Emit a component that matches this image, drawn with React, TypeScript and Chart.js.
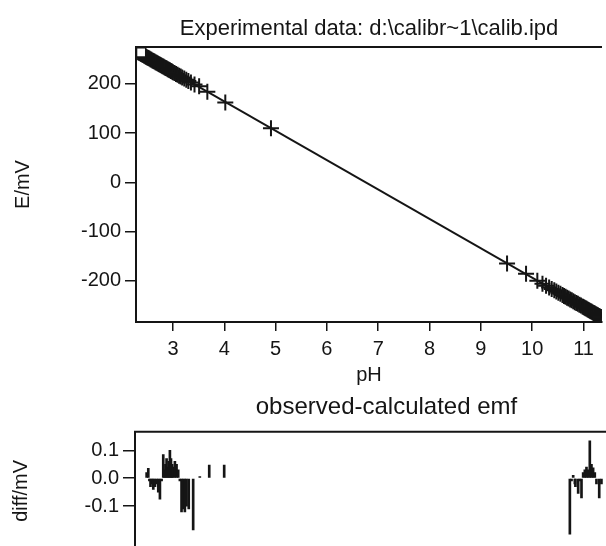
import React, { useEffect, useRef } from "react";
import { Chart, registerables } from "chart.js";

Chart.register(...registerables);

const FONT = "'Liberation Sans', Arial, Helvetica, sans-serif";
const INK = "#151515";

const titleTop = "Experimental data: d:\\calibr~1\\calib.ipd";
const titleBottom = "observed-calculated emf";
const xTitle = "pH";
const yTitleTop = "E/mV";
const yTitleBottom = "diff/mV";

const xTicks = [3, 4, 5, 6, 7, 8, 9, 10, 11];
const yTicksTop = [-200, -100, 0, 100, 200];
const yTicksBottom = [-0.1, 0, 0.1];

// observed points (pH, E/mV)
const phObs = [
  2.32, 2.34, 2.36, 2.38, 2.4, 2.42, 2.44, 2.46, 2.48, 2.5, 2.52, 2.54, 2.56, 2.58, 2.6, 2.62, 2.64, 2.66, 2.68, 2.7,
  2.72, 2.74, 2.76, 2.78, 2.8, 2.82, 2.84, 2.86, 2.88, 2.9, 2.92, 2.94, 2.96, 2.98, 3.0, 3.03, 3.06, 3.09, 3.12, 3.15,
  3.18, 3.22, 3.26, 3.3, 3.35, 3.42, 3.51, 3.67, 4.02, 4.91,
  9.51, 9.88, 10.1, 10.2, 10.27, 10.33, 10.38, 10.43, 10.47, 10.51, 10.55, 10.59, 10.62, 10.65, 10.68, 10.71, 10.74,
  10.77, 10.8, 10.83, 10.86, 10.89, 10.92, 10.95, 10.98, 11.0, 11.02, 11.04, 11.06, 11.08, 11.1, 11.12, 11.14, 11.16,
  11.18, 11.2, 11.22, 11.24, 11.26, 11.28, 11.3, 11.32, 11.34,
];
const emfObs = [
  264.5, 263.3, 262.1, 260.9, 259.7, 258.5, 257.3, 256.1, 254.9, 253.8, 252.6, 251.4, 250.2, 249.0, 247.8, 246.6, 245.4,
  244.2, 243.0, 241.8, 240.6, 239.4, 238.2, 237.0, 235.8, 234.6, 233.5, 232.3, 231.1, 229.9, 228.7, 227.5, 226.3, 225.1,
  223.9, 222.1, 220.3, 218.5, 216.7, 214.9, 213.2, 210.8, 208.4, 206.0, 203.0, 198.8, 195, 184, 162, 110,
  -165, -186, -200, -206, -210.1, -213.7, -216.7, -219.7, -222.1, -224.4, -226.8, -229.2, -231.0, -232.8, -234.6,
  -236.4, -238.2, -240.0, -241.8, -243.6, -245.3, -247.1, -248.9, -250.7, -252.5, -253.7, -254.9, -256.1, -257.3,
  -258.5, -259.7, -260.9, -262.1, -263.3, -264.5, -265.6, -266.8, -268.0, -269.2, -270.4, -271.6, -272.8, -274.0,
];

// calculated (fitted) line
const fitPh = [2.28, 11.36];
const fitEmf = [267, -275];

// first point marker
const startPh = [2.38];
const startEmf = [264];

// residuals (observed - calculated)
const residPh = [
  2.49, 2.52, 2.54, 2.56, 2.59, 2.61, 2.64, 2.67, 2.7, 2.73, 2.76, 2.79, 2.81, 2.83, 2.85, 2.87, 2.89, 2.91, 2.93, 2.95,
  2.97, 3.0, 3.03, 3.06, 3.09, 3.12, 3.15, 3.18, 3.21, 3.25, 3.33, 3.45, 3.62, 3.89,
  10.13, 10.16, 10.19, 10.22, 10.23, 10.28, 10.31, 10.34, 10.37, 10.4, 10.43, 10.46, 10.49, 10.52, 10.55, 10.58, 10.61,
  10.66, 10.7,
];
const residDiff = [
  0.02, 0.035, -0.01, -0.03, -0.02, -0.04, -0.03, -0.02, -0.05, -0.075, -0.01, 0.085, 0.03, 0.05, 0.07, 0.04, 0.06, 0.1,
  0.07, 0.05, 0.04, 0.06, 0.05, 0.03, -0.01, -0.12, -0.11, -0.12, -0.1, -0.11, -0.185, 0.006, 0.047, 0.047,
  -0.2, -0.01, 0.01, -0.02, -0.03, -0.054, -0.01, -0.07, 0.02, 0.03, 0.04, 0.03, 0.134, 0.05, 0.037, 0.02, -0.02,
  -0.07, -0.02,
];

const X_MIN = 2.28;
const X_MAX = 11.36;

const zip = (xs: number[], ys: number[]) =>
  xs.slice(0, Math.min(xs.length, ys.length)).map((x, i) => ({ x, y: ys[i] }));

const topFrame = {
  id: "topFrame",
  afterDraw(chart: any) {
    const { ctx, chartArea } = chart;
    ctx.save();
    ctx.strokeStyle = INK;
    ctx.lineWidth = 2;
    ctx.beginPath();
    ctx.moveTo(chartArea.left - 1, chartArea.top);
    ctx.lineTo(chartArea.right, chartArea.top);
    ctx.stroke();
    ctx.restore();
  },
};

const tickGrid = (len: number) => ({
  display: true,
  drawOnChartArea: false,
  drawTicks: true,
  tickLength: len,
  color: INK,
  lineWidth: 1.5,
});

export default function App() {
  const topRef = useRef<HTMLCanvasElement | null>(null);
  const botRef = useRef<HTMLCanvasElement | null>(null);

  useEffect(() => {
    const topChart = new Chart(topRef.current as HTMLCanvasElement, {
      type: "scatter",
      data: {
        datasets: [
          {
            label: "start",
            data: zip(startPh, startEmf),
            pointStyle: "rect",
            pointRadius: 6.5,
            backgroundColor: "#ffffff",
            borderColor: INK,
            borderWidth: 1.5,
            showLine: false,
          },
          {
            label: "observed",
            data: zip(phObs, emfObs),
            pointStyle: "cross",
            pointRadius: 8,
            borderColor: INK,
            backgroundColor: INK,
            borderWidth: 2,
            showLine: false,
          },
          {
            label: "calculated",
            data: zip(fitPh, fitEmf),
            showLine: true,
            pointRadius: 0,
            borderColor: INK,
            borderWidth: 2,
          },
        ],
      } as any,
      options: {
        animation: false,
        responsive: false,
        devicePixelRatio: 1,
        layout: { padding: { left: 0, right: 2, top: 0, bottom: 0 } },
        plugins: {
          legend: { display: false },
          tooltip: { enabled: false },
          title: {
            display: true,
            text: titleTop,
            fullSize: false,
            color: INK,
            font: { family: FONT, size: 22, weight: "normal" },
            padding: { top: 16, bottom: 4.6 },
          },
        },
        scales: {
          x: {
            type: "linear",
            min: X_MIN,
            max: X_MAX,
            afterBuildTicks: (s: any) => {
              s.ticks = xTicks.map((v) => ({ value: v }));
            },
            afterFit: (s: any) => {
              s.height = 65;
            },
            grid: tickGrid(9),
            border: { display: true, color: INK, width: 2 },
            ticks: {
              color: INK,
              font: { family: FONT, size: 20 },
              padding: 6,
              maxRotation: 0,
              autoSkip: false,
            },
            title: {
              display: true,
              text: xTitle,
              color: INK,
              font: { family: FONT, size: 20 },
              padding: { top: 0, bottom: 0 },
            },
          },
          y: {
            type: "linear",
            min: -284,
            max: 275,
            afterBuildTicks: (s: any) => {
              s.ticks = yTicksTop.map((v) => ({ value: v }));
            },
            afterFit: (s: any) => {
              s.width = 136;
            },
            grid: tickGrid(11),
            border: { display: true, color: INK, width: 2 },
            ticks: {
              color: INK,
              font: { family: FONT, size: 20 },
              padding: 4,
            },
            title: {
              display: true,
              text: yTitleTop,
              color: INK,
              font: { family: FONT, size: 20 },
              padding: { top: 11, bottom: 0 },
            },
          },
        },
      } as any,
      plugins: [topFrame],
    });

    const botChart = new Chart(botRef.current as HTMLCanvasElement, {
      type: "bar",
      data: {
        datasets: [
          {
            label: "diff",
            data: zip(residPh, residDiff),
            backgroundColor: INK,
            borderWidth: 0,
            barThickness: 2,
          },
        ],
      } as any,
      options: {
        animation: false,
        responsive: false,
        devicePixelRatio: 1,
        layout: { padding: { left: 0, right: 2, top: 0, bottom: 3 } },
        plugins: {
          legend: { display: false },
          tooltip: { enabled: false },
          title: {
            display: true,
            text: titleBottom,
            fullSize: false,
            color: INK,
            font: { family: FONT, size: 24, weight: "normal" },
            padding: { top: 6, bottom: 10 },
          },
        },
        scales: {
          x: {
            type: "linear",
            min: X_MIN,
            max: X_MAX,
            offset: false,
            display: false,
          },
          y: {
            type: "linear",
            min: -0.2565,
            max: 0.166,
            afterBuildTicks: (s: any) => {
              s.ticks = yTicksBottom.map((v) => ({ value: v }));
            },
            afterFit: (s: any) => {
              s.width = 135;
            },
            grid: tickGrid(12),
            border: { display: true, color: INK, width: 2 },
            ticks: {
              color: INK,
              font: { family: FONT, size: 20 },
              padding: 4,
              callback: (v: any) => Number(v).toFixed(1),
            },
            title: {
              display: true,
              text: yTitleBottom,
              color: INK,
              font: { family: FONT, size: 20 },
              padding: { top: 9, bottom: 0 },
            },
          },
        },
      } as any,
      plugins: [topFrame],
    });

    return () => {
      topChart.destroy();
      botChart.destroy();
    };
  }, []);

  return (
    <div
      style={{
        position: "fixed",
        left: 0,
        top: 0,
        width: 606,
        height: 546,
        overflow: "hidden",
        background: "#ffffff",
      }}
    >
      <canvas
        ref={topRef}
        width={612}
        height={387}
        style={{ position: "absolute", left: 0, top: 0, width: 612, height: 387 }}
      />
      <canvas
        ref={botRef}
        width={640}
        height={179}
        style={{ position: "absolute", left: 0, top: 387, width: 640, height: 179 }}
      />
    </div>
  );
}
